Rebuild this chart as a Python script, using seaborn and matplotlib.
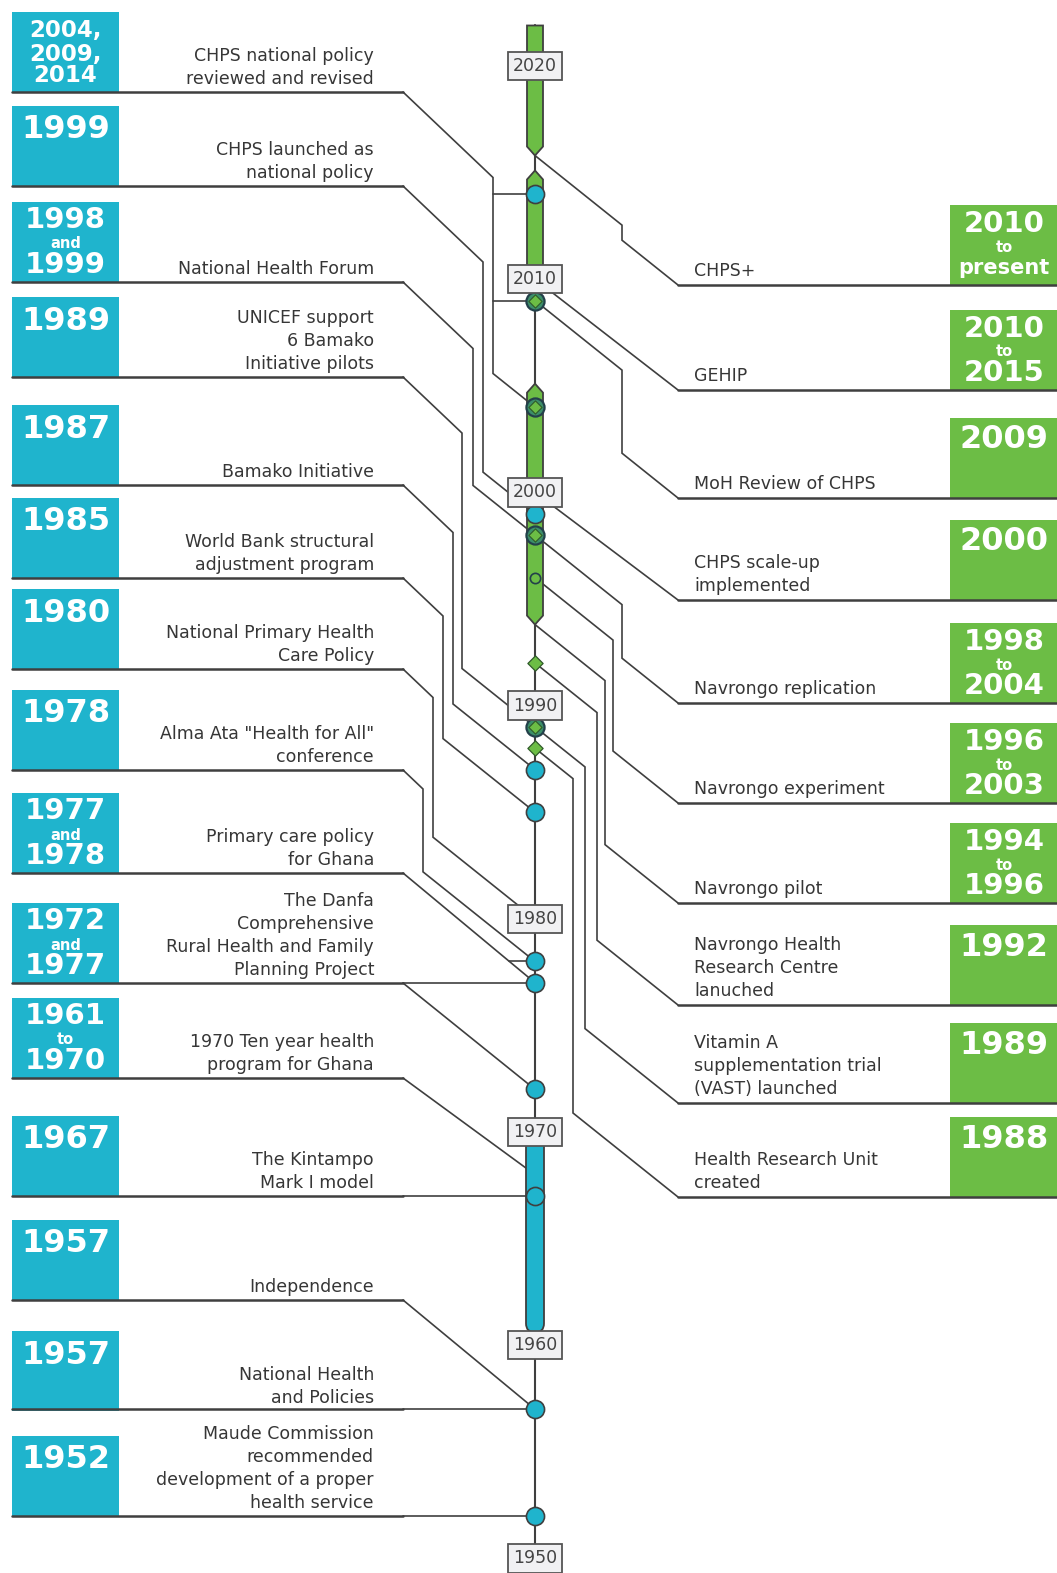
import numpy as np
import pandas as pd
import seaborn as sns
import matplotlib.pyplot as plt
from matplotlib.patches import Polygon, FancyBboxPatch, Rectangle

sns.set_theme(style="white")
plt.rcParams['font.family'] = ['DejaVu Sans']

CYAN = "#1fb4cd"
GREEN = "#6cbd45"
LINE = "#3f3f3f"
TEXT = "#363636"

# ---- data ----
left_years = ["2004,\n2009,\n2014", "1999", "1998\nand\n1999", "1989", "1987", "1985", "1980", "1978",
              "1977\nand\n1978", "1972\nand\n1977", "1961\nto\n1970", "1967", "1957", "1957", "1952"]
left_events = ["CHPS national policy\nreviewed and revised",
               "CHPS launched as\nnational policy",
               "National Health Forum",
               "UNICEF support\n6 Bamako\nInitiative pilots",
               "Bamako Initiative",
               "World Bank structural\nadjustment program",
               "National Primary Health\nCare Policy",
               "Alma Ata \"Health for All\"\nconference",
               "Primary care policy\nfor Ghana",
               "The Danfa\nComprehensive\nRural Health and Family\nPlanning Project",
               "1970 Ten year health\nprogram for Ghana",
               "The Kintampo\nMark I model",
               "Independence",
               "National Health\nand Policies",
               "Maude Commission\nrecommended\ndevelopment of a proper\nhealth service"]
left_target = [2004, 1999, 1998, 1989, 1987, 1985, 1980, 1978, 1977, 1977, 1968, 1967, 1957, 1957, 1952]
left_branch = {0: [2014, 2009], 8: [1978]}
left_extra = {9: [1972]}

right_years = ["2010\nto\npresent", "2010\nto\n2015", "2009", "2000", "1998\nto\n2004", "1996\nto\n2003",
               "1994\nto\n1996", "1992", "1989", "1988"]
right_events = ["CHPS+", "GEHIP", "MoH Review of CHPS", "CHPS scale-up\nimplemented",
                "Navrongo replication", "Navrongo experiment", "Navrongo pilot",
                "Navrongo Health\nResearch Centre\nlanuched",
                "Vitamin A\nsupplementation trial\n(VAST) launched",
                "Health Research Unit\ncreated"]
right_start = [2015.8, 2010, 2009, 2000, 1998, 1996, 1993.8, 1992, 1989, 1988]

axis_years = [2020, 2010, 2000, 1990, 1980, 1970, 1960, 1950]
cyan_dots = [2014, 1999, 1987, 1985, 1978, 1977, 1972, 1967, 1957, 1952]
ring_dots = [2009, 2004, 1998, 1989]
diamond_dots = [1992, 1988]
small_dots = [1996]
green_top = [2021.9, 2015.1, 2005.1]
green_bottom = [2015.8, 2010.0, 1993.8]
cyan_range = (1970.2, 1960.6)

# ---- layout (pixels) ----
left_row_y = [92, 186, 282, 377, 485, 578, 669, 770, 873, 983, 1078, 1196, 1300, 1411, 1516]
left_channel = [493, 483, 473, 462, 453, 443, 433, 423, None, None, None, None, None, None, None]
right_row_y = [285, 390, 498, 600, 703, 803, 903, 1005, 1103, 1197]
right_channel = [622, None, 622, None, 622, 613, 605, 597, 585, 573]
AX = 535
BOX_H = 80


def yr(y):
    return 66 + (2020 - y) * 21.32


fig = plt.figure(figsize=(10.57, 15.73), dpi=100)
ax = fig.add_axes([0, 0, 1, 1])
ax.set_xlim(0, 1057)
ax.set_ylim(1573, 0)
ax.axis('off')

conn = dict(color=LINE, lw=1.2, solid_joinstyle='miter', zorder=1)


def path_at(xs, ys, y):
    for i in range(len(ys) - 1):
        if min(ys[i], ys[i + 1]) <= y <= max(ys[i], ys[i + 1]) and ys[i] != ys[i + 1]:
            t = (y - ys[i]) / (ys[i + 1] - ys[i])
            return xs[i] + t * (xs[i + 1] - xs[i])
    return xs[-1]


# left side
for i, (lab, ev, ry) in enumerate(zip(left_years, left_events, left_row_y)):
    ax.add_patch(Rectangle((12, ry - BOX_H), 107, BOX_H, fc=CYAN, ec='none', zorder=2))
    ty = yr(left_target[i])
    if abs(ty - ry) < 6:
        ry_line = ty
    else:
        ry_line = ry
    ax.plot([12, 403], [ry_line, ry_line], color=LINE, lw=1.8, zorder=3)
    xc = left_channel[i]
    if xc is None:
        xs, ys = [403, AX], [ry_line, ty]
    else:
        xs = [403, xc, xc, AX]
        ys = [ry, ry + (xc - 403) * 0.95, ty - (AX - xc) * 0.8, ty]
    ax.plot(xs, ys, **conn)
    for b in left_branch.get(i, []):
        bx = path_at(xs, ys, yr(b))
        ax.plot([bx, AX], [yr(b), yr(b)], **conn)
    for e in left_extra.get(i, []):
        ax.plot([403, AX], [ry, yr(e)], **conn)
    # year text in box
    parts = lab.split("\n")
    top = ry - BOX_H
    if len(parts) == 1:
        ax.text(65.5, top + 24, parts[0], ha='center', va='center', color='white',
                fontsize=23, fontweight='bold', zorder=6)
    elif "," in lab:
        for k, p in enumerate(parts):
            ax.text(65.5, top + [19, 42, 64][k], p, ha='center', va='center', color='white',
                    fontsize=16.5, fontweight='bold', zorder=6, linespacing=1.0)
    else:
        for k, p in enumerate(parts):
            size = 10.5 if len(p) <= 3 else 21
            ax.text(65.5, top + [18, 41, 63][k] + (1 if k == 1 else 0), p,
                    ha='center', va='center', color='white', fontsize=size,
                    fontweight='bold', zorder=6)
    for k, line in enumerate(reversed(ev.split("\n"))):
        ax.text(374, ry - 13 - 23 * k, line, ha='right', va='center', color=TEXT,
                fontsize=12.5, zorder=6)

# right side
for i, (lab, ev, ry) in enumerate(zip(right_years, right_events, right_row_y)):
    ax.add_patch(Rectangle((950, ry - BOX_H), 110, BOX_H, fc=GREEN, ec='none', zorder=2))
    ax.plot([678, 1057], [ry, ry], color=LINE, lw=1.8, zorder=3)
    sy = yr(right_start[i])
    xc = right_channel[i]
    if xc is None:
        xs, ys = [AX, 678], [sy, ry]
    else:
        xs = [AX, xc, xc, 678]
        ys = [sy, sy + (xc - AX) * 0.8, ry - (678 - xc) * 0.8, ry]
    ax.plot(xs, ys, **conn)
    parts = lab.split("\n")
    top = ry - BOX_H
    if len(parts) == 1:
        ax.text(1004, top + 22, parts[0], ha='center', va='center', color='white',
                fontsize=23, fontweight='bold', zorder=6)
    else:
        for k, p in enumerate(parts):
            size = 10.5 if len(p) <= 3 else (15 if p == "present" else 21)
            ax.text(1004, top + [19, 42, 63][k], p, ha='center', va='center',
                    color='white', fontsize=size, fontweight='bold', zorder=6)
    for k, line in enumerate(reversed(ev.split("\n"))):
        ax.text(694, ry - 14 - 23 * k, line, ha='left', va='center', color=TEXT,
                fontsize=12.5, zorder=6)

# timeline axis
ax.plot([AX, AX], [25, 1573], color=LINE, lw=1.5, zorder=2)

w, p = 8, 9
for j, (t, b) in enumerate(zip(green_top, green_bottom)):
    y0, y1 = yr(t), yr(b)
    pts = []
    if j == 0:
        pts += [(AX - w, y0), (AX + w, y0)]
    else:
        pts += [(AX, y0), (AX + w, y0 + p)]
    if j == 1:
        pts += [(AX + w, y1), (AX - w, y1)]
    else:
        pts += [(AX + w, y1 - p), (AX, y1), (AX - w, y1 - p)]
    if j != 0:
        pts += [(AX - w, y0 + p)]
    ax.add_patch(Polygon(pts, closed=True, fc=GREEN, ec=LINE, lw=1.3, zorder=3))

c0, c1 = yr(cyan_range[0]), yr(cyan_range[1])
ax.add_patch(FancyBboxPatch((AX - 9, c0), 18, c1 - c0,
                            boxstyle="round,pad=0,rounding_size=9",
                            fc=CYAN, ec=LINE, lw=1.3, zorder=3))

# dots through seaborn
dots = pd.DataFrame({"x": AX, "y": [yr(v) for v in cyan_dots]})
sns.scatterplot(data=dots, x="x", y="y", ax=ax, s=170, color=CYAN, edgecolor=LINE,
                linewidth=1.2, legend=False, zorder=5)
rings = pd.DataFrame({"x": AX, "y": [yr(v) for v in ring_dots]})
sns.scatterplot(data=rings, x="x", y="y", ax=ax, s=170, color="#3c8f6a", edgecolor="#23404a",
                linewidth=1.6, legend=False, zorder=5)
sns.scatterplot(data=rings, x="x", y="y", ax=ax, s=45, marker="D", color=GREEN,
                edgecolor="#2f5a2a", linewidth=0.8, legend=False, zorder=6)
dia = pd.DataFrame({"x": AX, "y": [yr(v) for v in diamond_dots]})
sns.scatterplot(data=dia, x="x", y="y", ax=ax, s=60, marker="D", color=GREEN,
                edgecolor="#2f5a2a", linewidth=0.9, legend=False, zorder=5)
sm = pd.DataFrame({"x": AX, "y": [yr(v) for v in small_dots]})
sns.scatterplot(data=sm, x="x", y="y", ax=ax, s=55, color=GREEN,
                edgecolor="#23404a", linewidth=1.2, legend=False, zorder=5)
ax.set_xlim(0, 1057)
ax.set_ylim(1573, 0)
ax.axis('off')

for a in axis_years:
    ax.text(AX, yr(a), str(a), ha='center', va='center', fontsize=12.5, color="#444444",
            zorder=7, bbox=dict(boxstyle="square,pad=0.3", fc="#f1f1f3", ec="#555555", lw=1.3))

fig.savefig("out.png", dpi=100, facecolor="white")
